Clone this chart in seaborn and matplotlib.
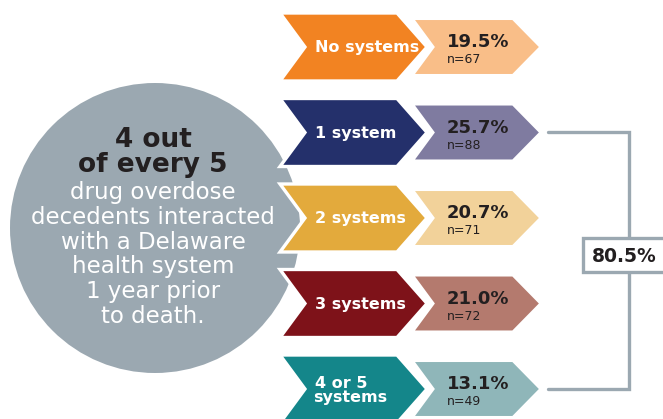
import numpy as np
import matplotlib
matplotlib.use('Agg')
import matplotlib.pyplot as plt
from matplotlib.patches import Polygon, Circle, Rectangle
import seaborn as sns

categories = ['No systems', '1 system', '2 systems', '3 systems', '4 or 5\nsystems']
percents = [19.5, 25.7, 20.7, 21.0, 13.1]
counts = [67, 88, 71, 72, 49]
total_any = 80.5
dark_colors = ['#F28322', '#24306B', '#E3AA3C', '#7E1219', '#14868A']
light_colors = ['#F9BE88', '#7F7BA0', '#F2D29A', '#B47A6E', '#8FB6B9']
gray = '#9BA8B1'
ink = '#231F20'

sns.set_theme(style='white')
plt.rcParams['font.family'] = ['DejaVu Sans']

fig = plt.figure(figsize=(6.63, 4.19), dpi=100)
ax = fig.add_axes([0, 0, 1, 1])
ax.set_xlim(0, 663)
ax.set_ylim(419, 0)
ax.set_aspect('equal')
ax.axis('off')

# Big circle with the headline
ax.add_patch(Circle((155, 228), 145, color=gray, lw=0, zorder=1))
ax.text(153, 147, '4 out', ha='center', va='baseline', fontsize=19,
        fontweight='bold', color=ink, zorder=5)
ax.text(153, 172, 'of every 5', ha='center', va='baseline', fontsize=19,
        fontweight='bold', color=ink, zorder=5)
body = ['drug overdose', 'decedents interacted', 'with a Delaware',
        'health system', '1 year prior', 'to death.']
for k, line in enumerate(body):
    ax.text(153, 199 + k * 24.8, line, ha='center', va='baseline',
            fontsize=16.5, color='white', zorder=5)


def chevron(x0, x1, tip, notch, yc, h):
    return [(x0, yc - h), (x1, yc - h), (x1 + tip, yc), (x1, yc + h),
            (x0, yc + h), (x0 + notch, yc)]


row_y = 47 + np.arange(len(categories)) * 85.5

for i, cat in enumerate(categories):
    yc = row_y[i]
    ax.add_patch(Polygon(chevron(412, 513, 28, 21, yc, 28.5), closed=True,
                         facecolor=light_colors[i], edgecolor='white', lw=2.2, zorder=2))
    ax.add_patch(Polygon(chevron(280, 397, 30, 25, yc, 34), closed=True,
                         facecolor=dark_colors[i], edgecolor='white', lw=2.4, zorder=3))
    lines = cat.split('\n')
    if len(lines) == 1:
        ax.text(315, yc + 5, cat, ha='left', va='baseline', fontsize=11.5,
                fontweight='bold', color='white', zorder=5)
    else:
        ax.text(315, yc - 1, lines[0], ha='left', va='baseline', fontsize=11.5,
                fontweight='bold', color='white', zorder=5)
        ax.text(313, yc + 13, lines[1], ha='left', va='baseline', fontsize=11.5,
                fontweight='bold', color='white', zorder=5)
    ax.text(447, yc, f'{percents[i]:.1f}%', ha='left', va='baseline',
            fontsize=13, fontweight='bold', color=ink, zorder=5)
    ax.text(447, yc + 16, f'n={counts[i]}', ha='left', va='baseline',
            fontsize=9, color=ink, zorder=5)

# Bracket grouping the rows with at least one system
y_top, y_bot = row_y[1], row_y[-1]
ax.plot([548, 629, 629, 548], [y_top, y_top, y_bot, y_bot], color=gray,
        lw=2.4, solid_joinstyle='miter', zorder=2)
ax.add_patch(Rectangle((583, 238), 90, 34, facecolor='white', edgecolor=gray,
                       lw=2.4, zorder=3))
ax.text(624, 256, f'{total_any:.1f}%', ha='center', va='center', fontsize=13.5,
        fontweight='bold', color=ink, zorder=5)

fig.savefig('out.png', dpi=100)
plt.close(fig)
